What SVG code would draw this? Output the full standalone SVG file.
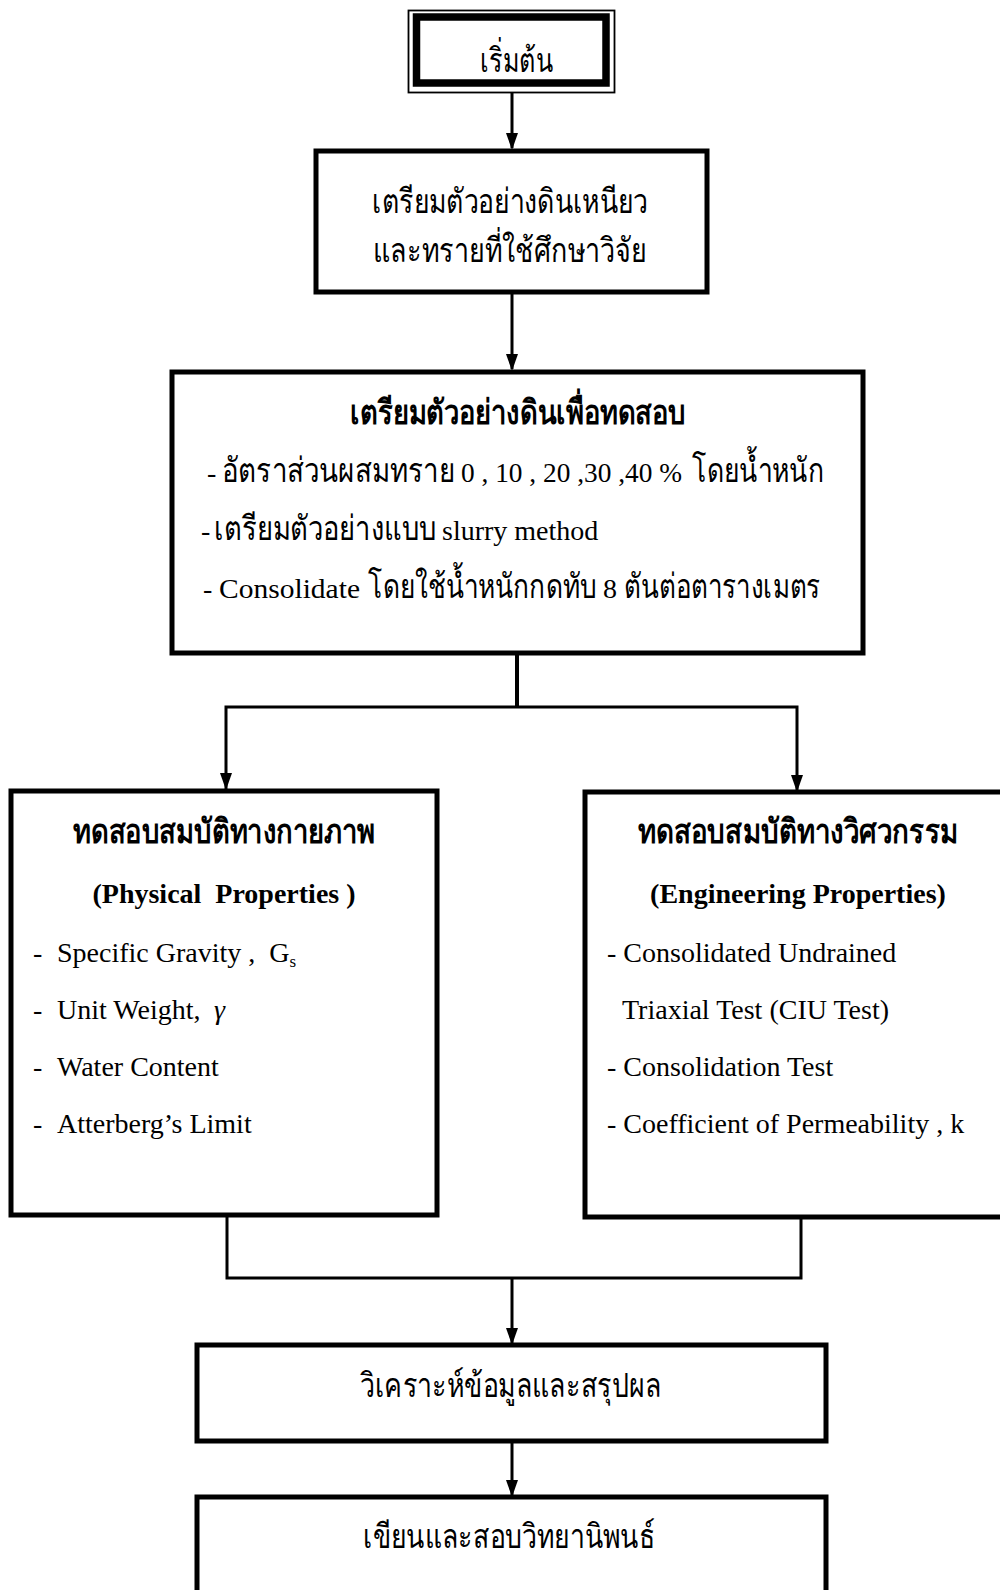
<svg xmlns="http://www.w3.org/2000/svg" width="1000" height="1590" viewBox="0 0 1000 1590">
<defs>
<style>
.box{fill:#fff;stroke:#000;stroke-width:5}
.ln{fill:none;stroke:#000;stroke-width:3}
.tx{font-family:"Liberation Serif","DejaVu Serif",serif;font-size:28px;fill:#000}
.t{font-family:"Liberation Serif","DejaVu Serif",serif;font-size:34px;fill:#000}
.b{font-weight:bold}
.mid{text-anchor:middle}
</style>
</defs>
<rect width="1000" height="1590" fill="#fff"/>

<g id="connectors">
<line class="ln" x1="512" y1="93" x2="512" y2="148"/>
<path d="M506,133 L518,133 L512,150 Z"/>
<line class="ln" x1="512" y1="294" x2="512" y2="369"/>
<path d="M506,354 L518,354 L512,371 Z"/>
<line x1="517" y1="654" x2="517" y2="708" stroke="#000" stroke-width="4"/>
<polyline class="ln" points="226,789 226,707 797,707 797,790"/>
<path d="M220,773 L232,773 L226,790 Z"/>
<path d="M791,775 L803,775 L797,792 Z"/>
<polyline class="ln" points="227,1216 227,1278 801,1278 801,1218"/>
<line class="ln" x1="512" y1="1278" x2="512" y2="1343"/>
<path d="M506,1328 L518,1328 L512,1345 Z"/>
<line class="ln" x1="512" y1="1441" x2="512" y2="1495"/>
<path d="M506,1480 L518,1480 L512,1497 Z"/>
</g>

<g id="start">
<rect x="408.5" y="10.5" width="206" height="82" fill="#fff" stroke="#000" stroke-width="1.8"/>
<rect x="416.5" y="17" width="189.5" height="66" fill="none" stroke="#000" stroke-width="7.5"/>
<text class="t" transform="translate(480,72) scale(0.8,1)" textLength="91" lengthAdjust="spacingAndGlyphs">เริ่มต้น</text>
</g>

<g id="prepare">
<rect class="box" x="316" y="151" width="391" height="141"/>
<text class="t" transform="translate(372,213) scale(0.8,1)" textLength="345" lengthAdjust="spacingAndGlyphs">เตรียมตัวอย่างดินเหนียว</text>
<text class="t" transform="translate(373,262) scale(0.8,1)" textLength="342" lengthAdjust="spacingAndGlyphs">และทรายที่ใช้ศึกษาวิจัย</text>
</g>

<g id="samples">
<rect class="box" x="172" y="372" width="691" height="281"/>
<text class="t b" transform="translate(350,424) scale(0.8,1)" textLength="420" lengthAdjust="spacingAndGlyphs">เตรียมตัวอย่างดินเพื่อทดสอบ</text>
<text class="tx" x="207" y="482">-</text>
<text class="t" transform="translate(222,482) scale(0.8,1)" textLength="291" lengthAdjust="spacingAndGlyphs">อัตราส่วนผสมทราย</text>
<text class="tx" x="461" y="482" textLength="221" lengthAdjust="spacingAndGlyphs" xml:space="preserve">0 , 10 , 20 ,30 ,40 %</text>
<text class="t" transform="translate(692,482) scale(0.8,1)" textLength="165" lengthAdjust="spacingAndGlyphs">โดยน้ำหนัก</text>
<text class="tx" x="201" y="540">-</text>
<text class="t" transform="translate(214,540) scale(0.8,1)" textLength="279" lengthAdjust="spacingAndGlyphs">เตรียมตัวอย่างแบบ</text>
<text class="tx" x="442" y="540">slurry method</text>
<text class="tx" x="203" y="598">-</text>
<text class="tx" x="219" y="598" textLength="141" lengthAdjust="spacingAndGlyphs">Consolidate</text>
<text class="t" transform="translate(368,598) scale(0.8,1)" textLength="286" lengthAdjust="spacingAndGlyphs">โดยใช้น้ำหนักกดทับ</text>
<text class="tx" x="603" y="598">8</text>
<text class="t" transform="translate(624,598) scale(0.8,1)" textLength="246" lengthAdjust="spacingAndGlyphs">ตันต่อตารางเมตร</text>
</g>

<g id="physical">
<rect class="box" x="11" y="791" width="426" height="424"/>
<text class="t b" transform="translate(73,843) scale(0.8,1)" textLength="377" lengthAdjust="spacingAndGlyphs">ทดสอบสมบัติทางกายภาพ</text>
<text class="tx b mid" x="224" y="903" xml:space="preserve">(Physical  Properties )</text>
<text class="tx" y="962" xml:space="preserve"><tspan x="33">-</tspan><tspan x="57">Specific Gravity ,  G</tspan><tspan font-size="17" dy="5">s</tspan></text>
<text class="tx" y="1019" xml:space="preserve"><tspan x="33">-</tspan><tspan x="57">Unit Weight,</tspan><tspan font-style="italic" x="214">γ</tspan></text>
<text class="tx" y="1076"><tspan x="33">-</tspan><tspan x="57">Water Content</tspan></text>
<text class="tx" y="1133"><tspan x="33">-</tspan><tspan x="57">Atterberg’s Limit</tspan></text>
</g>

<g id="engineering">
<rect class="box" x="585" y="792" width="430" height="425"/>
<text class="t b" transform="translate(638,843) scale(0.8,1)" textLength="400" lengthAdjust="spacingAndGlyphs">ทดสอบสมบัติทางวิศวกรรม</text>
<text class="tx b mid" x="798" y="903">(Engineering Properties)</text>
<text class="tx" x="607" y="962">- Consolidated Undrained</text>
<text class="tx" x="622" y="1019">Triaxial Test (CIU Test)</text>
<text class="tx" x="607" y="1076">- Consolidation Test</text>
<text class="tx" x="607" y="1133">- Coefficient of Permeability , k</text>
</g>

<g id="analyze">
<rect class="box" x="197" y="1345" width="629" height="96"/>
<text class="t" transform="translate(360,1397) scale(0.8,1)" textLength="377" lengthAdjust="spacingAndGlyphs">วิเคราะห์ข้อมูลและสรุปผล</text>
</g>

<g id="write">
<rect class="box" x="197" y="1497" width="629" height="120"/>
<text class="t" transform="translate(363,1548) scale(0.8,1)" textLength="365" lengthAdjust="spacingAndGlyphs">เขียนและสอบวิทยานิพนธ์</text>
</g>
</svg>
